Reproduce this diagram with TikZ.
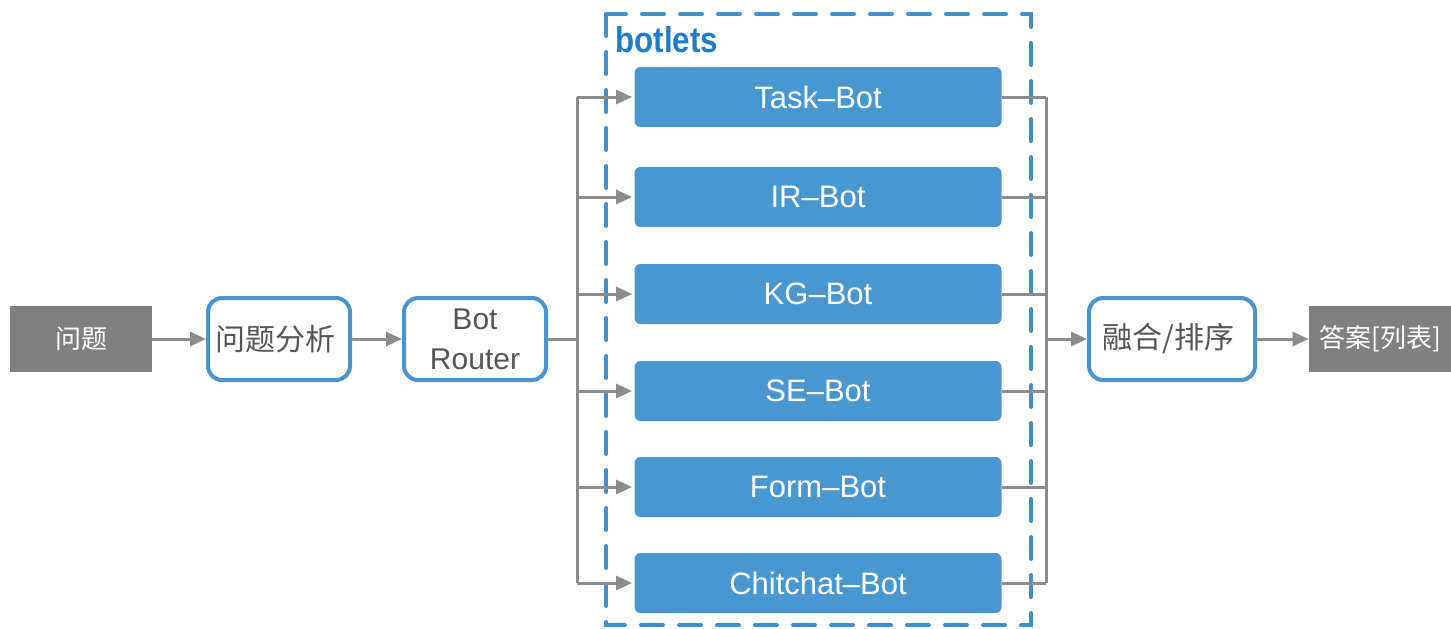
\documentclass[tikz,border=0pt]{standalone}
\usepackage{fontspec}
\setmainfont{Noto Sans CJK SC}
\newfontfamily\latin{Liberation Sans}
\usetikzlibrary{arrows.meta}

\definecolor{botblue}{HTML}{4A96CF}
\definecolor{framblue}{HTML}{4A93CC}
\definecolor{grpblue}{HTML}{3F90D0}
\definecolor{titleblue}{HTML}{1E7CC8}
\definecolor{termgray}{HTML}{808080}
\definecolor{linegray}{HTML}{8C8C8C}
\definecolor{textgray}{HTML}{555555}

\begin{document}
\begin{tikzpicture}[x=0.5pt, y=-0.5pt,
	term/.style={rectangle, fill=termgray, text=white, minimum width=71pt, minimum height=33pt, inner sep=0pt, font=\fontsize{13}{15}\selectfont},
	stage/.style={rectangle, rounded corners=7pt, draw=framblue, line width=2pt, fill=white, text=textgray, minimum width=71pt, minimum height=41pt, inner sep=0pt, align=center},
	bot/.style={rectangle, rounded corners=3pt, fill=botblue, text=white, minimum width=183.5pt, minimum height=30pt, inner sep=0pt, font=\latin\fontsize{15.5}{17}\selectfont},
	flow/.style={draw=linegray, line width=1.5pt},
	arr/.style={flow, -{Triangle[length=8pt, width=7pt]}}]
	\useasboundingbox (0,0) rectangle (1451,628);

	% group of botlets
	\draw[grpblue, line width=2pt, dash pattern=on 11pt off 8pt, line cap=round] (606,14) rectangle (1031,625);
	\node[anchor=base west, inner sep=0pt, text=titleblue, font=\latin\fontsize{18}{20}\selectfont\bfseries] (title) at (615,52) {\scalebox{0.87}[1]{botlets}};

	\node[term] (q) at ( 81, 339 ) { 问题 };
	\node[stage, font=\fontsize{15}{18}\selectfont] (ana) at ( 279, 339 ) { 问题分析 };
	\node[stage, font=\latin\fontsize{15}{20}\selectfont] (router) at ( 475, 339 ) { Bot\\Router };

	\node[bot] (task) at ( 818, 97 ) { Task–Bot };
	\node[bot] (ir) at ( 818, 197 ) { IR–Bot };
	\node[bot] (kg) at ( 818, 294 ) { KG–Bot };
	\node[bot] (se) at ( 818, 391 ) { SE–Bot };
	\node[bot] (form) at ( 818, 487 ) { Form–Bot };
	\node[bot] (chat) at ( 818, 583 ) { Chitchat–Bot };

	\node[stage, minimum width=83pt, font=\fontsize{15}{18}\selectfont] (merge) at ( 1172, 339 ) { 融合/排序 };
	\node[term] (ans) at ( 1380, 339 ) { 答案[列表] };

	\coordinate (fork) at ( 577, 339 );
	\coordinate (join) at ( 1046, 339 );

	\draw[arr] (q) -- (ana);
	\draw[arr] (ana) -- (router);
	\draw[flow] (router) -- (fork);
	\draw[flow] (fork |- task.west) -- (fork |- chat.west);
	\draw[flow] (join |- task.east) -- (join |- chat.east);
	\foreach \b in {task, ir, kg, se, form, chat} {
		\draw[arr] (fork |- \b.west) -- ([xshift=-1pt]\b.west);
		\draw[flow] (\b.east) -- (join |- \b.east);
	}
	\draw[arr] (join) -- (merge);
	\draw[arr] (merge) -- (ans);
\end{tikzpicture}
\end{document}
